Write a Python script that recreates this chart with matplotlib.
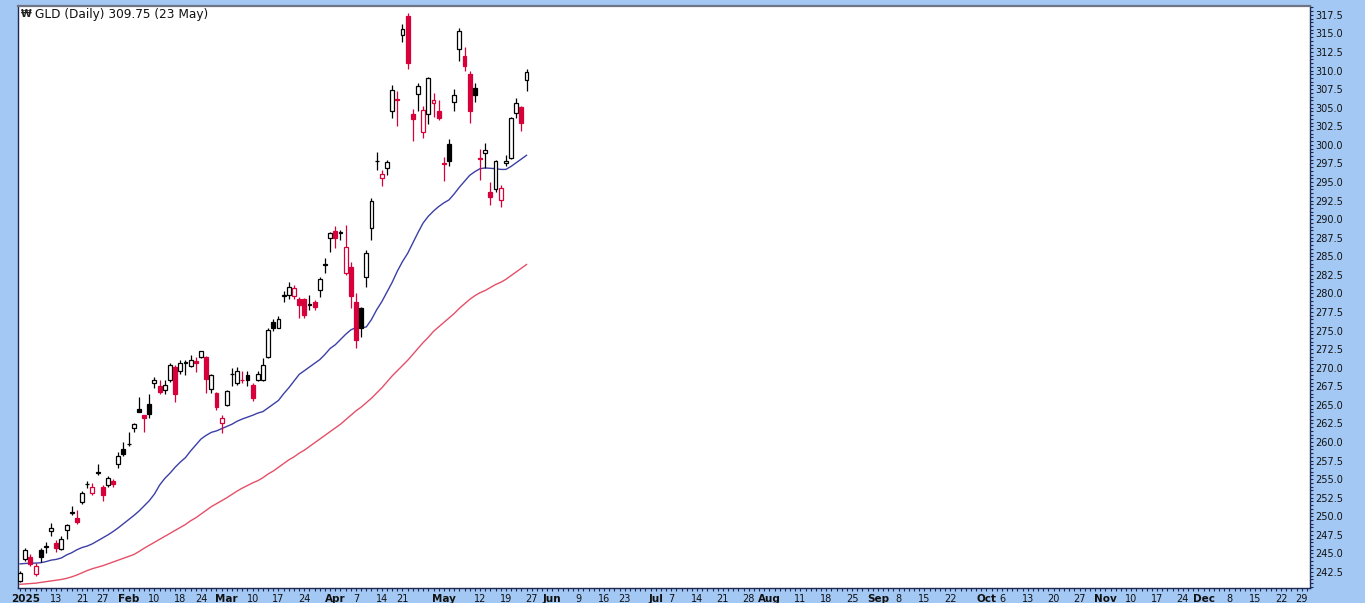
import numpy as np
import pandas as pd
import matplotlib
matplotlib.use('Agg')
import matplotlib.pyplot as plt
from matplotlib.patches import Rectangle
from matplotlib.ticker import MultipleLocator, FixedLocator, FormatStrFormatter

# Feriados da bolsa americana em 2025 (dias sem pregão)
feriados = ['2025-01-01', '2025-01-09', '2025-01-20', '2025-02-17', '2025-04-18',
            '2025-05-26', '2025-06-19', '2025-07-04', '2025-09-01', '2025-11-27',
            '2025-12-25']

# Candles diários do GLD, de 31/12/2024 até 23/05/2025
abertura = [241.3, 244.2, 244.5, 242.2, 245.5, 245.9, 248.0, 246.4, 245.6, 248.2,
            250.5, 249.8, 251.9, 254.3, 253.2, 255.8, 253.9, 254.2, 254.7, 257.1,
            259.1, 259.7, 261.9, 264.4, 263.6, 265.1, 267.9, 267.6, 267.0, 268.4,
            270.1, 269.5, 270.6, 270.2, 270.9, 271.4, 271.4, 267.1, 266.6, 262.5,
            265.0, 269.1, 267.9, 268.4, 269.0, 267.7, 268.4, 268.4, 271.5, 276.1,
            275.4, 279.7, 279.8, 279.6, 279.3, 279.2, 278.5, 278.9, 280.5, 283.9,
            287.5, 288.4, 288.2, 282.8, 283.5, 278.8, 278.0, 282.2, 288.8, 297.8,
            295.5, 296.9, 304.6, 306.2, 314.8, 317.4, 304.2, 306.9, 301.7, 304.1,
            305.7, 304.6, 297.6, 300.1, 305.8, 312.9, 312.0, 309.5, 307.6, 298.3,
            298.9, 293.7, 294.0, 292.6, 297.6, 298.2, 304.35, 305.1, 308.7]
maxima = [242.6, 245.7, 244.9, 243.7, 245.8, 246.5, 249.1, 246.8, 247.3, 248.9,
          251.4, 250.9, 253.4, 254.8, 254.5, 257.1, 254.2, 255.4, 255.0, 258.7,
          260.0, 261.4, 262.6, 266.1, 263.7, 266.4, 268.8, 268.4, 268.4, 270.6,
          270.4, 271.0, 271.05, 271.7, 271.5, 272.3, 271.6, 269.2, 266.8, 263.6,
          267.0, 270.0, 270.15, 269.5, 269.5, 267.9, 269.5, 271.3, 275.3, 276.5,
          276.9, 280.4, 281.5, 281.1, 279.5, 279.35, 279.8, 279.1, 282.2, 284.75,
          288.3, 289.1, 288.6, 289.2, 284.3, 280.0, 278.2, 285.9, 292.8, 299.1,
          296.6, 298.0, 308.0, 307.2, 316.3, 317.7, 304.8, 308.4, 305.3, 309.1,
          306.95, 306.1, 298.4, 300.8, 307.5, 315.7, 313.2, 309.9, 308.4, 299.4,
          300.2, 295.0, 298.0, 294.6, 298.7, 303.8, 306.3, 305.2, 310.2]
minima = [241.1, 244.0, 243.3, 241.9, 243.9, 245.0, 247.3, 245.2, 245.4, 247.0,
          250.2, 249.0, 251.7, 253.8, 252.9, 255.6, 252.0, 253.9, 253.9, 256.5,
          258.1, 259.5, 261.4, 264.0, 261.4, 263.2, 267.3, 266.5, 266.4, 268.1,
          265.4, 269.2, 269.0, 270.1, 269.4, 271.3, 266.6, 266.6, 264.3, 261.2,
          264.85, 267.5, 267.7, 267.9, 267.6, 265.5, 268.2, 268.2, 271.3, 274.9,
          275.3, 278.9, 279.3, 279.2, 276.7, 276.7, 277.8, 277.8, 279.5, 282.7,
          285.6, 286.1, 287.2, 282.5, 278.0, 272.6, 274.2, 280.9, 287.2, 296.6,
          294.5, 296.0, 303.6, 302.5, 313.8, 310.2, 300.5, 304.5, 300.9, 302.8,
          303.8, 303.3, 295.1, 297.1, 304.5, 311.35, 310.0, 302.9, 305.8, 295.3,
          296.9, 291.9, 293.6, 291.6, 297.2, 298.1, 303.6, 301.9, 307.3]
fechamento = [242.4, 245.4, 243.6, 243.3, 244.5, 246.0, 248.4, 245.7, 247.0, 248.8,
              250.6, 249.2, 253.2, 254.4, 254.0, 255.9, 252.9, 255.2, 254.3, 258.1,
              258.4, 259.8, 262.4, 264.1, 263.3, 263.8, 268.4, 266.8, 267.7, 270.4,
              266.4, 270.7, 270.8, 271.0, 270.7, 272.2, 268.5, 269.0, 264.7, 263.3,
              266.9, 269.2, 269.6, 268.3, 268.4, 265.9, 269.1, 270.4, 275.1, 275.3,
              276.6, 279.8, 280.9, 280.8, 278.5, 277.1, 278.6, 278.2, 281.9, 284.0,
              288.2, 287.5, 288.3, 286.3, 279.6, 273.8, 275.3, 285.4, 292.4, 297.9,
              296.1, 297.7, 307.4, 306.0, 315.6, 311.0, 303.5, 307.9, 304.7, 309.0,
              306.05, 303.6, 297.4, 297.8, 306.7, 315.4, 310.6, 304.5, 306.7, 298.1,
              299.35, 293.0, 297.8, 294.2, 297.8, 303.6, 305.7, 303.0, 309.75]

# Médias móveis (azul = curta, vermelha = longa), um valor por pregão
mm_azul = [243.6, 243.65, 243.7, 243.7, 243.75, 243.9, 244.1, 244.2, 244.4, 244.8,
           245.1, 245.5, 245.8, 246.0, 246.3, 246.7, 247.1, 247.5, 247.95, 248.45,
           249.0, 249.55, 250.1, 250.7, 251.4, 252.1, 253.0, 254.2, 255.1, 255.8,
           256.6, 257.3, 257.9, 258.8, 259.6, 260.4, 260.9, 261.3, 261.5, 261.8,
           262.1, 262.4, 262.8, 263.1, 263.35, 263.6, 263.9, 264.1, 264.6, 265.1,
           265.6, 266.5, 267.3, 268.2, 269.1, 269.6, 270.1, 270.6, 271.1, 271.8,
           272.6, 273.1, 273.8, 274.5, 275.1, 275.4, 275.35, 275.5, 276.5, 277.8,
           278.9, 280.2, 281.5, 283.0, 284.3, 285.4, 286.8, 288.2, 289.5, 290.4,
           291.1, 291.7, 292.2, 292.6, 293.4, 294.3, 295.1, 295.9, 296.4, 296.8,
           296.9, 296.85, 296.8, 296.7, 296.7, 297.1, 297.6, 298.1, 298.6]
mm_vermelha = [240.85, 240.9, 240.95, 241.0, 241.1, 241.2, 241.3, 241.4, 241.5, 241.65,
               241.85, 242.1, 242.4, 242.7, 242.95, 243.15, 243.35, 243.6, 243.85, 244.1,
               244.35, 244.6, 244.85, 245.25, 245.7, 246.1, 246.5, 246.9, 247.3, 247.7,
               248.1, 248.5, 248.9, 249.4, 249.8, 250.3, 250.8, 251.3, 251.7, 252.1,
               252.5, 252.95, 253.4, 253.8, 254.15, 254.5, 254.8, 255.2, 255.7, 256.1,
               256.6, 257.1, 257.6, 258.0, 258.5, 258.9, 259.4, 259.9, 260.4, 260.9,
               261.4, 261.9, 262.4, 263.0, 263.6, 264.2, 264.7, 265.3, 265.9, 266.6,
               267.3, 268.1, 268.9, 269.6, 270.3, 271.0, 271.8, 272.6, 273.4, 274.1,
               274.9, 275.5, 276.1, 276.7, 277.3, 278.0, 278.6, 279.2, 279.7, 280.1,
               280.4, 280.8, 281.2, 281.5, 281.9, 282.4, 282.9, 283.4, 283.9]

# Rótulos do eixo X (meses em negrito)
datas_rotulos = ['2025-01-02', '2025-01-13', '2025-01-21', '2025-01-27', '2025-02-03',
                 '2025-02-10', '2025-02-18', '2025-02-24', '2025-03-03', '2025-03-10',
                 '2025-03-17', '2025-03-24', '2025-04-01', '2025-04-07', '2025-04-14',
                 '2025-04-21', '2025-05-01', '2025-05-12', '2025-05-19', '2025-05-27',
                 '2025-06-02', '2025-06-09', '2025-06-16', '2025-06-23', '2025-07-01',
                 '2025-07-07', '2025-07-14', '2025-07-21', '2025-07-28', '2025-08-01',
                 '2025-08-11', '2025-08-18', '2025-08-25', '2025-09-02', '2025-09-08',
                 '2025-09-15', '2025-09-22', '2025-10-01', '2025-10-06', '2025-10-13',
                 '2025-10-20', '2025-10-27', '2025-11-03', '2025-11-10', '2025-11-17',
                 '2025-11-24', '2025-12-01', '2025-12-08', '2025-12-15', '2025-12-22',
                 '2025-12-29']
rotulos = ['2025', '13', '21', '27', 'Feb', '10', '18', '24', 'Mar', '10', '17', '24',
           'Apr', '7', '14', '21', 'May', '12', '19', '27', 'Jun', '9', '16', '23',
           'Jul', '7', '14', '21', '28', 'Aug', '11', '18', '25', 'Sep', '8', '15', '22',
           'Oct', '6', '13', '20', '27', 'Nov', '10', '17', '24', 'Dec', '8', '15', '22',
           '29']
meses = ['2025', 'Jan', 'Feb', 'Mar', 'Apr', 'May', 'Jun', 'Jul', 'Aug', 'Sep', 'Oct',
         'Nov', 'Dec']

titulo = 'GLD (Daily) 309.75 (23 May)'

# Cores
azul_fundo = '#A4C8F4'
vermelho = '#D7003A'
cor_mm_azul = '#3B3FA6'
cor_mm_vermelha = '#E54F68'
cor_eixo = '#1E2850'

# Calendário de pregões (31/12/2024 + dias úteis de 2025 sem feriados)
dias = pd.bdate_range('2025-01-01', '2025-12-31')
dias = dias[~dias.isin(pd.to_datetime(feriados))]
pregoes = [pd.Timestamp('2024-12-31')] + list(dias)
posicao = {d: i for i, d in enumerate(pregoes)}

fig = plt.figure(figsize=(13.65, 6.03), dpi=100, facecolor=azul_fundo)
ax = fig.add_axes([18 / 1365, 15 / 603, 1292 / 1365, 582 / 603])
ax.set_facecolor('white')

# Candles
largura = 0.75
for i in range(len(fechamento)):
    o, h, l, c = abertura[i], maxima[i], minima[i], fechamento[i]
    anterior = fechamento[i - 1] if i > 0 else c
    cor = vermelho if c < anterior else 'black'
    ax.vlines(i, l, h, color=cor, lw=0.9, zorder=2)
    preenchimento = cor if c < o else 'white'
    ax.add_patch(Rectangle((i - largura / 2, min(o, c)), largura, max(abs(c - o), 0.02),
                           facecolor=preenchimento, edgecolor=cor, lw=0.9, zorder=3))

# Médias móveis
x = np.arange(len(mm_azul))
ax.plot(x, mm_azul, color=cor_mm_azul, lw=1.0, zorder=1)
ax.plot(x, mm_vermelha, color=cor_mm_vermelha, lw=1.0, zorder=1)

ax.set_xlim(-0.4, 249.6)
ax.set_ylim(240.35, 318.7)

# Eixo Y à direita
ax.yaxis.tick_right()
ax.yaxis.set_major_locator(MultipleLocator(2.5))
ax.yaxis.set_minor_locator(MultipleLocator(0.5))
ax.yaxis.set_major_formatter(FormatStrFormatter('%.1f'))
ax.tick_params(axis='y', which='both', length=2, width=0.8, color=cor_eixo,
               labelsize=7, pad=2, labelcolor='#111111')

# Eixo X com pregões
pos_rotulos = [posicao[pd.Timestamp(d)] for d in datas_rotulos]
ax.xaxis.set_major_locator(FixedLocator(pos_rotulos))
ax.set_xticklabels(rotulos)
ax.xaxis.set_minor_locator(FixedLocator(np.arange(len(pregoes))))
ax.tick_params(axis='x', which='both', length=2, width=0.8, color=cor_eixo,
               labelsize=7, pad=2, labelcolor='#111111')
for rot in ax.get_xticklabels():
    if rot.get_text() in meses:
        rot.set_fontweight('bold')
        rot.set_fontsize(7.5)

for lado in ['left', 'bottom', 'right']:
    ax.spines[lado].set_color(cor_eixo)
    ax.spines[lado].set_linewidth(1.0)
ax.spines['top'].set_color('#6E7482')
ax.spines['top'].set_linewidth(1.6)

# Ícone pequeno e título no canto superior esquerdo
ax.text(0.0025, 0.986, '\u20a9', transform=ax.transAxes, fontsize=7, fontweight='bold',
        va='center', ha='left', color='#222222')
ax.text(0.0132, 0.986, titulo, transform=ax.transAxes, fontsize=8.7, va='center',
        ha='left', color='#111111')

plt.savefig('out.png', dpi=100, facecolor=azul_fundo)
